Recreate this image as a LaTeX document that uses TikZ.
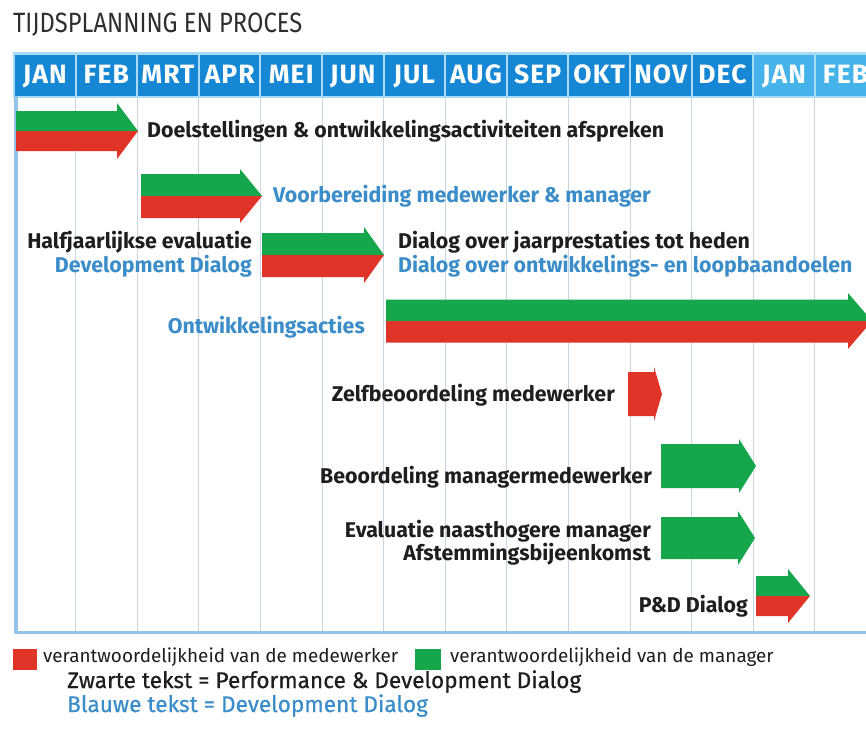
\documentclass[tikz,border=0pt]{standalone}
\usepackage{fontspec}
\setmainfont{Fira Sans}
\newfontfamily\medfont[FakeBold=0.5]{Fira Sans}
\newfontfamily\titlefont[FakeStretch=0.85]{Fira Sans}
\newfontfamily\monthfont[LetterSpace=4]{Fira Sans}
\definecolor{gr}{HTML}{16A64B}
\definecolor{rd}{HTML}{E03428}
\definecolor{bluetxt}{HTML}{3A8DC8}
\definecolor{blacktxt}{HTML}{1E1E1E}
\definecolor{titletxt}{HTML}{2E2E2E}
\definecolor{hdr}{HTML}{1587D4}
\definecolor{hdrlight}{HTML}{45B3EA}
\definecolor{hdrborder}{HTML}{A9DAF6}
\definecolor{gridc}{HTML}{C8D5E2}
\definecolor{framec}{HTML}{94C5E7}
\newlength\tmpw
\newcommand\calcsize[3]{%
  \settowidth\tmpw{\normalfont\fontsize{10}{12}\selectfont #3}%
  \pgfmathsetmacro#1{10*#2/\tmpw}}
% x0, head start, tip, y centre, body half height, head half height
\newcommand\duoarrow[6]{%
  \fill[gr] (#1,{#4-#5}) -- (#2,{#4-#5}) -- (#2,{#4-#6}) -- (#3,#4) -- (#1,#4) -- cycle;
  \fill[rd] (#1,#4) -- (#3,#4) -- (#2,{#4+#6}) -- (#2,{#4+#5}) -- (#1,{#4+#5}) -- cycle;}
\newcommand\monoarrow[7]{%
  \fill[#7] (#1,{#4-#5}) -- (#2,{#4-#5}) -- (#2,{#4-#6}) -- (#3,#4) -- (#2,{#4+#6}) -- (#2,{#4+#5}) -- (#1,{#4+#5}) -- cycle;}
\begin{document}%
\calcsize{\bsz}{517}{\bfseries Doelstellingen \& ontwikkelingsactiviteiten afspreken}%
\calcsize{\lsz}{355}{verantwoordelijkheid van de medewerker}%
\calcsize{\tsz}{289}{\titlefont TIJDSPLANNING EN PROCES}%
\calcsize{\ksz}{514}{\medfont Zwarte tekst = Performance \& Development Dialog}%
\begin{tikzpicture}[x=1pt,y=-1pt,
  lbl/.style={inner sep=0pt,text=blacktxt,font=\fontsize{\bsz}{\bsz}\selectfont\bfseries},
  blbl/.style={lbl,text=bluetxt},
  month/.style={inner sep=0pt,anchor=base,text=white,font=\fontsize{26.5}{26.5}\monthfont\bfseries},
  legtxt/.style={inner sep=0pt,anchor=base west,text=blacktxt,font=\fontsize{\lsz}{\lsz}\selectfont},
  keytxt/.style={inner sep=0pt,anchor=base west,text=blacktxt,font=\fontsize{\ksz}{\ksz}\medfont},
  gridline/.style={draw=gridc,line width=1pt},
  frameline/.style={draw=framec,line cap=round}]
\useasboundingbox (0,0) rectangle (866,731);
\clip (0,0) rectangle (866,731);
\fill[white] (0,0) rectangle (866,731);

% title
\node[inner sep=0pt,anchor=base west,text=titletxt,font=\fontsize{\tsz}{\tsz}\titlefont] (title) at (13,32) {TIJDSPLANNING EN PROCES};

% header
\fill[hdrborder] (12.5,52) rectangle (870,98);
\foreach \i/\m in {0/JAN,1/FEB,2/MRT,3/APR,4/MEI,5/JUN,6/JUL,7/AUG,8/SEP,9/OKT,10/NOV,11/DEC}{
  \fill[hdr] ({14+61.6*\i+1},54.5) rectangle ({14+61.6*(\i+1)-1},95.5);
  \node[month] (m\i) at ({14+61.6*(\i+0.5)},83.5) {\m};}
\foreach \i/\m in {12/JAN,13/FEB}{
  \fill[hdrlight] ({14+61.6*\i+1},54.5) rectangle ({14+61.6*(\i+1)-1},95.5);
  \node[month] (m\i) at ({14+61.6*(\i+0.5)},83.5) {\m};}

% grid
\foreach \i in {1,...,13}{
  \draw[gridline] ({14+61.6*\i},98) -- ({14+61.6*\i},632);}
\draw[frameline,line width=4pt] (15.5,98) -- (15.5,632);
\draw[frameline,line width=3pt] (15.5,632.5) -- (870,632.5);

% arrows
\duoarrow{16}{117}{138}{131}{20}{28}
\duoarrow{141}{240}{262}{196}{22}{27}
\duoarrow{262}{364}{384}{255}{22}{28}
\duoarrow{386}{848}{872}{321}{21.5}{28}
\monoarrow{628}{654}{662}{394}{22}{27}{rd}
\monoarrow{661}{739}{756}{466}{22}{27}{gr}
\monoarrow{661}{738}{755}{538}{21}{27}{gr}
\duoarrow{756}{788}{810}{596}{20}{27}

% labels
\node[lbl,anchor=base west] (doel) at (147,137) {Doelstellingen \& ontwikkelingsactiviteiten afspreken};
\node[blbl,anchor=base west] (voor) at (273,202) {Voorbereiding medewerker \& manager};
\node[lbl,anchor=base east] (half) at (252,248) {Halfjaarlijkse evaluatie};
\node[blbl,anchor=base east] (devd) at (252,272) {Development Dialog};
\node[lbl,anchor=base west] (jaar) at (398,248) {Dialog over jaarprestaties tot heden};
\node[blbl,anchor=base west] (loop) at (398,272) {Dialog over ontwikkelings- en loopbaandoelen};
\node[blbl,anchor=base east] (acties) at (365,333) {Ontwikkelingsacties};
\node[lbl,anchor=base east] (zelf) at (615,401) {Zelfbeoordeling medewerker};
\node[lbl,anchor=base east] (beoord) at (652,483) {Beoordeling managermedewerker};
\node[lbl,anchor=base east] (evalu) at (651,537) {Evaluatie naasthogere manager};
\node[lbl,anchor=base east] (afst) at (651,560) {Afstemmingsbijeenkomst};
\node[lbl,anchor=base east] (pd) at (748,612) {P\&D Dialog};

% legend
\fill[rd] (13,649) rectangle (37,670);
\node[legtxt] (legmw) at (43,662) {verantwoordelijkheid van de medewerker};
\fill[gr] (415,649) rectangle (441,670);
\node[legtxt] (legman) at (450,662) {verantwoordelijkheid van de manager};
\node[keytxt] (zwart) at (67,688) {Zwarte tekst = Performance \& Development Dialog};
\node[keytxt,text=bluetxt] (blauw) at (67,712) {Blauwe tekst = Development Dialog};
\end{tikzpicture}%
\end{document}
